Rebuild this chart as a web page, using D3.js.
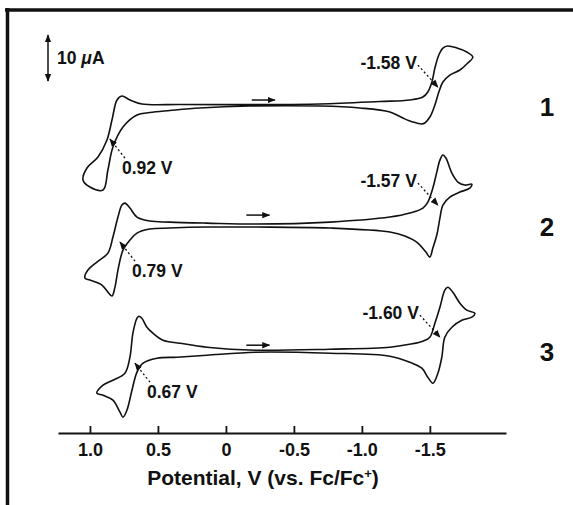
<!DOCTYPE html>
<html lang="en">
<head>
<meta charset="UTF-8">
<title>Cyclic voltammograms 1-3</title>
<script src="https://d3js.org/d3.v7.min.js"></script>
<style>
  body { margin: 0; background: #fff; }
  svg text { font-family: "Liberation Sans", Arial, Helvetica, sans-serif; font-weight: bold; fill: #111; }
  .cv { fill: none; stroke: #111; stroke-width: 1.6; }
  .axis path, .axis line { stroke: #111; stroke-width: 1.8; }
  .axis text { font-size: 18px; }
</style>
</head>
<body>
<svg id="chart" width="573" height="505"></svg>
<script>
// potential (V vs Fc/Fc+) and current (uA, relative to each trace's own baseline)
const cv1V = [0.765, 0.706, 0.618, 0.338, -0.176, -0.691, -1.132, -1.353, -1.449, -1.485, -1.515, -1.537, -1.566, -1.596, -1.632, -1.699, -1.772, -1.816,
  -1.779, -1.721, -1.647, -1.596, -1.566, -1.537, -1.500, -1.463, -1.441, -1.375, -1.301, -1.206, -0.985, -0.691, -0.176, 0.191, 0.412, 0.559, 0.654,
  0.757, 0.831, 0.868, 0.904, 1.000, 1.051, 1.022, 0.941, 0.875, 0.838, 0.801];
const cv1I = [1.96, 1.09, 0.22, 0.11, 0.11, 0.22, 0.76, 1.09, 1.74, 2.83, 5.0, 8.04, 10.87, 12.39, 12.83, 12.39, 11.52, 10.43,
  9.13, 7.61, 6.52, 5.0, 2.83, 0, -2.61, -3.91, -4.13, -3.7, -2.83, -1.52, -0.65, -0.22, -0.22, -0.65, -1.2, -1.63, -2.17,
  -4.78, -9.13, -14.13, -18.48, -17.83, -16.3, -13.7, -11.3, -7.61, -3.26, 1.09];

const cv2V = [0.743, 0.706, 0.654, 0.559, 0.412, 0.140, -0.221, -0.765, -1.206, -1.353, -1.449, -1.485, -1.522, -1.551, -1.574, -1.596, -1.618, -1.662,
  -1.706, -1.757, -1.809, -1.794, -1.721, -1.647, -1.596, -1.574, -1.551, -1.522, -1.500, -1.471, -1.412, -1.316, -1.206, -0.765, -0.221, 0.140,
  0.412, 0.559, 0.654, 0.706, 0.757, 0.794, 0.816, 0.838, 0.868, 0.912, 1.000, 1.037, 1.015, 0.949, 0.868, 0.831, 0.794, 0.765];
const cv2I = [4.78, 3.7, 1.74, 0.87, 0.65, 0.43, 0.22, 0.65, 1.74, 2.61, 3.7, 5.0, 8.04, 11.52, 14.13, 15.22, 14.57, 11.3,
  9.35, 8.7, 8.91, 8.04, 7.17, 6.09, 4.35, 1.52, -2.17, -5.0, -6.96, -5.87, -3.91, -2.39, -1.52, -0.65, -0.43, -0.43,
  -0.65, -0.87, -1.74, -3.26, -5.43, -9.78, -13.48, -15.43, -14.57, -13.04, -11.96, -11.52, -9.78, -8.04, -6.09, -2.61, 1.74, 4.35];

const cv3V = [0.640, 0.618, 0.581, 0.537, 0.463, 0.338, 0.140, -0.221, -0.765, -1.206, -1.353, -1.449, -1.500, -1.537, -1.574, -1.610, -1.632, -1.669,
  -1.721, -1.772, -1.831, -1.809, -1.735, -1.662, -1.610, -1.588, -1.559, -1.522, -1.485, -1.441, -1.353, -1.206, -0.765, -0.221, 0.140, 0.360,
  0.507, 0.610, 0.654, 0.691, 0.728, 0.757, 0.779, 0.831, 0.904, 0.949, 0.904, 0.831, 0.743, 0.706, 0.684, 0.654];
const cv3I = [7.39, 6.96, 5.0, 3.7, 2.17, 1.52, 0.65, 0, 0.22, 0.65, 1.3, 1.96, 2.83, 5.87, 9.35, 13.04, 13.7, 12.61,
  10.22, 8.7, 8.04, 7.17, 6.52, 5.0, 2.83, -1.52, -5.0, -7.17, -5.87, -3.91, -2.61, -1.3, -0.65, -0.43, -1.09, -1.52,
  -1.74, -2.83, -4.78, -8.7, -13.04, -14.57, -13.48, -10.87, -9.78, -9.35, -7.61, -6.52, -5.0, -1.52, 3.7, 6.96];

const compounds = ["1", "2", "3"];
// half-wave potentials (reduction, oxidation) and where their arrows point (V, uA)
const eHalfRed = [-1.58, -1.57, -1.60];
const eHalfOx = [0.92, 0.79, 0.67];
const redTipV = [-1.559, -1.559, -1.574];
const redTipI = [3.9, 4.35, 2.83];
const oxTipV = [0.853, 0.779, 0.669];
const oxTipI = [-7.4, -3.7, -2.83];
// start of each potential sweep (arrow)
const sweepStartV = [-0.19, -0.15, -0.15];
const sweepEndV = [-0.36, -0.32, -0.32];

const potentialTicks = [1.0, 0.5, 0, -0.5, -1.0, -1.5];
const tickLabels = ["1.0", "0.5", "0", "-0.5", "-1.0", "-1.5"];
const scaleBarUA = 10;

const svg = d3.select("#chart");

// frame (top + left edge)
svg.append("line").attr("x1", 5).attr("x2", 573).attr("y1", 10).attr("y2", 10)
  .attr("stroke", "#111").attr("stroke-width", 3.5);
svg.append("line").attr("x1", 7.5).attr("x2", 7.5).attr("y1", 8).attr("y2", 505)
  .attr("stroke", "#111").attr("stroke-width", 3.5);

const defs = svg.append("defs");
defs.append("marker").attr("id", "head").attr("viewBox", "0 0 10 10")
  .attr("refX", 9).attr("refY", 5).attr("markerWidth", 8).attr("markerHeight", 8)
  .attr("markerUnits", "userSpaceOnUse").attr("orient", "auto-start-reverse")
  .append("path").attr("d", "M0,1 L10,5 L0,9 Z").attr("fill", "#111");

const x = d3.scaleLinear().domain([1.235, -2.06]).range([58, 506]);
const y = d3.scaleLinear().domain([0, 100]).range([433, -27]);
const offsets = [71.3, 45.2, 18.0];

const axis = d3.axisBottom(x).tickValues(potentialTicks)
  .tickFormat((d, i) => tickLabels[i]).tickSizeInner(-7).tickSizeOuter(0).tickPadding(10);
svg.append("g").attr("class", "axis").attr("transform", "translate(0,433)").call(axis);

const title = svg.append("text").attr("x", 263).attr("y", 485).attr("text-anchor", "middle")
  .attr("font-size", 21);
title.append("tspan").text("Potential, V (vs. Fc/Fc");
title.append("tspan").attr("font-size", 13).attr("dy", -7).text("+");
title.append("tspan").attr("dy", 7).text(")");

const line = d3.line().x(d => x(d[0])).y(d => y(d[1])).curve(d3.curveCatmullRomClosed.alpha(0.5));

const traces = [[cv1V, cv1I], [cv2V, cv2I], [cv3V, cv3I]];
traces.forEach(([vs, is], k) => {
  const pts = vs.map((v, j) => [v, is[j] + offsets[k]]);
  svg.append("path").attr("class", "cv").attr("d", line(pts));

  // sweep direction arrow
  const ay = y(offsets[k]) - (k === 1 ? 10 : 5);
  svg.append("line").attr("x1", x(sweepStartV[k])).attr("x2", x(sweepEndV[k]))
    .attr("y1", ay).attr("y2", ay).attr("stroke", "#111").attr("stroke-width", 1.5)
    .attr("marker-end", "url(#head)");

  // reduction label
  const rtx = x(redTipV[k]), rty = y(redTipI[k] + offsets[k]);
  svg.append("line").attr("x1", rtx - 20).attr("y1", rty - 22).attr("x2", rtx).attr("y2", rty)
    .attr("stroke", "#111").attr("stroke-width", 1.3).attr("stroke-dasharray", "2,2.5")
    .attr("marker-end", "url(#head)");
  svg.append("text").attr("x", rtx - 21).attr("y", rty - 18).attr("text-anchor", "end")
    .attr("font-size", 17.5).text(eHalfRed[k].toFixed(2) + " V");

  // oxidation label
  const otx = x(oxTipV[k]), oty = y(oxTipI[k] + offsets[k]);
  svg.append("line").attr("x1", otx + 15).attr("y1", oty + 19).attr("x2", otx).attr("y2", oty)
    .attr("stroke", "#111").attr("stroke-width", 1.3).attr("stroke-dasharray", "2,2.5")
    .attr("marker-end", "url(#head)");
  svg.append("text").attr("x", otx + 12).attr("y", oty + 35).attr("text-anchor", "start")
    .attr("font-size", 17.5).text(eHalfOx[k].toFixed(2) + " V");

  // compound number
  svg.append("text").attr("x", 547).attr("y", y(offsets[k]) + 11).attr("text-anchor", "middle")
    .attr("font-size", 26).text(compounds[k]);
});

// 10 uA scale bar
const sb0 = 76.5;
svg.append("line").attr("x1", 48).attr("x2", 48).attr("y1", y(sb0)).attr("y2", y(sb0 + scaleBarUA))
  .attr("stroke", "#111").attr("stroke-width", 1.5)
  .attr("marker-start", "url(#head)").attr("marker-end", "url(#head)");
const sbText = svg.append("text").attr("x", 57).attr("y", y(sb0 + scaleBarUA / 2) + 6).attr("font-size", 17.5);
sbText.append("tspan").text(scaleBarUA + " ");
sbText.append("tspan").attr("font-style", "italic").text("\u03bc");
sbText.append("tspan").text("A");
</script>
</body>
</html>
